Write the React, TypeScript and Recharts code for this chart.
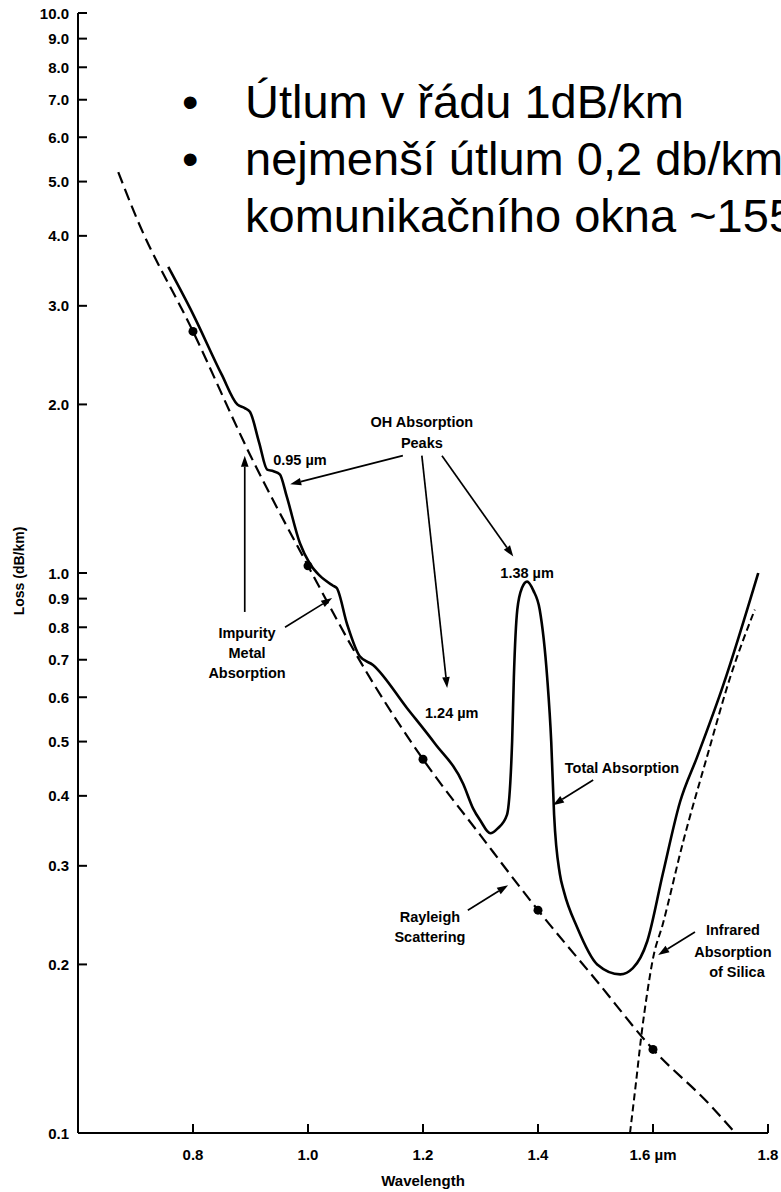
import React from 'react';
import { ComposedChart, Line, XAxis, YAxis, ReferenceLine, ReferenceDot } from 'recharts';

// ---------- data ----------
const rayleighWl = [0.67, 0.7, 0.8, 0.9, 1.0, 1.1, 1.2, 1.3, 1.4, 1.5, 1.6, 1.7, 1.743];
const rayleighLoss = [5.2, 4.35, 2.7, 1.62, 1.03, 0.67, 0.465, 0.34, 0.25, 0.188, 0.141, 0.112, 0.1];

const totalWl = [0.757, 0.8, 0.85, 0.877, 0.89, 0.899, 0.915, 0.929, 0.94, 0.951, 0.963, 0.986, 1.003, 1.02, 1.043, 1.05, 1.068, 1.09, 1.113, 1.172, 1.22, 1.27, 1.287, 1.3, 1.317, 1.33, 1.346, 1.355, 1.358, 1.364, 1.372, 1.381, 1.392, 1.403, 1.416, 1.423, 1.428, 1.438, 1.445, 1.468, 1.503, 1.543, 1.565, 1.59, 1.617, 1.647, 1.677, 1.722, 1.783];
const totalLoss = [3.52, 2.9, 2.26, 2.0, 1.97, 1.94, 1.71, 1.53, 1.52, 1.5, 1.37, 1.13, 1.04, 0.99, 0.95, 0.94, 0.81, 0.71, 0.685, 0.574, 0.497, 0.42, 0.38, 0.361, 0.343, 0.35, 0.37, 0.5, 0.65, 0.86, 0.94, 0.965, 0.93, 0.86, 0.65, 0.5, 0.37, 0.29, 0.27, 0.233, 0.2, 0.192, 0.197, 0.22, 0.29, 0.39, 0.47, 0.63, 1.0];

const infraredWl = [1.56, 1.57, 1.58, 1.59, 1.6, 1.617, 1.652, 1.694, 1.734, 1.777];
const infraredLoss = [0.1, 0.122, 0.15, 0.178, 0.205, 0.236, 0.33, 0.47, 0.65, 0.86];

const markerWl = [0.8, 1.0, 1.2, 1.4, 1.6];

const xTicks = [0.8, 1.0, 1.2, 1.4, 1.6, 1.8];
const xTickLabels = ['0.8', '1.0', '1.2', '1.4', '1.6 \u00b5m', '1.8'];
const yTicks = [0.1, 0.2, 0.3, 0.4, 0.5, 0.6, 0.7, 0.8, 0.9, 1, 2, 3, 4, 5, 6, 7, 8, 9, 10];

const bulletLines = ['\u00datlum v \u0159\u00e1du 1dB/km', 'nejmen\u0161\u00ed \u00fatlum 0,2 db/km', 'komunika\u010dn\u00edho okna ~1550 nm'];

// annotation labels anchored in data space
const noteTexts = ['OH Absorption', 'Peaks', '0.95 \u00b5m', '1.38 \u00b5m', '1.24 \u00b5m', 'Impurity', 'Metal', 'Absorption', 'Total Absorption', 'Rayleigh', 'Scattering', 'Infrared', 'Absorption', 'of Silica'];
const noteWl = [1.198, 1.198, 0.986, 1.381, 1.25, 0.894, 0.894, 0.894, 1.546, 1.212, 1.212, 1.739, 1.739, 1.746];
const noteLoss = [1.86, 1.71, 1.59, 1.0, 0.562, 0.781, 0.72, 0.663, 0.448, 0.243, 0.224, 0.23, 0.2105, 0.194];

// annotation arrows (from -> to) in data space
const arrowFromWl = [1.165, 1.198, 1.233, 0.89, 0.96, 1.496, 1.278, 1.673];
const arrowFromLoss = [1.62, 1.62, 1.62, 0.852, 0.8, 0.427, 0.25, 0.2285];
const arrowToWl = [0.969, 1.242, 1.357, 0.89, 1.042, 1.426, 1.348, 1.609];
const arrowToLoss = [1.44, 0.623, 1.07, 1.62, 0.902, 0.385, 0.277, 0.208];

// ---------- derived tables ----------
const rayleighData = rayleighWl.map((x, i) => ({ x, y: rayleighLoss[i] }));
const totalData = totalWl.map((x, i) => ({ x, y: totalLoss[i] }));
const infraredData = infraredWl.map((x, i) => ({ x, y: infraredLoss[i] }));
const markerData = markerWl.map((x) => ({ x, y: rayleighLoss[rayleighWl.indexOf(x)] }));

const W = 781;
const H = 1192;
const FONT = '"Liberation Sans", Arial, Helvetica, sans-serif';

const YTick = (props: any) => {
  const { x, y, payload } = props;
  return (
    <g>
      <line x1={x} x2={x + 9} y1={y} y2={y} stroke="#000" strokeWidth={2} />
      <text x={x - 9} y={y} textAnchor="end" dominantBaseline="central" fontSize={15} fontWeight="bold" fontFamily={FONT} fill="#000">
        {Number(payload.value).toFixed(1)}
      </text>
    </g>
  );
};

const XTick = (props: any) => {
  const { x, y, payload } = props;
  const idx = xTicks.indexOf(payload.value);
  return (
    <g>
      <line x1={x} x2={x} y1={y} y2={y - 9} stroke="#000" strokeWidth={2} />
      <text x={x} y={y + 21} textAnchor="middle" dominantBaseline="central" fontSize={15} fontWeight="bold" fontFamily={FONT} fill="#000">
        {idx >= 0 ? xTickLabels[idx] : String(payload.value)}
      </text>
    </g>
  );
};

const ArrowShape = (p: any) => {
  const x1 = Number(p.x1), y1 = Number(p.y1), x2 = Number(p.x2), y2 = Number(p.y2);
  const ang = Math.atan2(y2 - y1, x2 - x1);
  const L = 11, Wd = 3.8;
  const bx = x2 - L * Math.cos(ang);
  const by = y2 - L * Math.sin(ang);
  const pts = `${x2},${y2} ${bx + Wd * Math.sin(ang)},${by - Wd * Math.cos(ang)} ${bx - Wd * Math.sin(ang)},${by + Wd * Math.cos(ang)}`;
  return (
    <g>
      <line x1={x1} y1={y1} x2={bx} y2={by} stroke="#000" strokeWidth={1.7} />
      <polygon points={pts} fill="#000" />
    </g>
  );
};

const makeNote = (text: string) => (p: any) => (
  <text x={p.cx} y={p.cy} textAnchor="middle" dominantBaseline="central" fontSize={14.5} fontWeight="bold" fontFamily={FONT} fill="#000">
    {text}
  </text>
);

export default function App() {
  return (
    <div style={{ position: 'absolute', left: 0, top: 0, width: W, height: H, background: '#fff', overflow: 'hidden' }}>
      <ComposedChart width={W} height={H} margin={{ top: 13, right: 13, bottom: 9, left: 18 }}>
        <XAxis
          type="number"
          dataKey="x"
          domain={[0.6, 1.8]}
          ticks={xTicks}
          allowDataOverflow
          interval={0}
          height={50}
          tickSize={0}
          tickMargin={0}
          tickLine={false}
          axisLine={{ stroke: '#000', strokeWidth: 2 }}
          tick={<XTick />}
        />
        <YAxis
          type="number"
          scale="log"
          domain={[0.1, 10]}
          ticks={yTicks}
          allowDataOverflow
          interval={0}
          width={60}
          tickSize={0}
          tickMargin={0}
          tickLine={false}
          axisLine={{ stroke: '#000', strokeWidth: 2 }}
          tick={<YTick />}
        />
        <Line data={rayleighData} dataKey="y" type="monotone" stroke="#000" strokeWidth={2.2} strokeDasharray="12 6" dot={false} isAnimationActive={false} />
        <Line data={infraredData} dataKey="y" type="monotone" stroke="#000" strokeWidth={2} strokeDasharray="7 4" dot={false} isAnimationActive={false} />
        <Line data={totalData} dataKey="y" type="monotone" stroke="#000" strokeWidth={2.6} dot={false} isAnimationActive={false} />
        <Line data={markerData} dataKey="y" stroke="none" dot={{ r: 4.5, fill: '#000', stroke: '#000', strokeWidth: 0 }} isAnimationActive={false} />
        {arrowFromWl.map((w, i) => (
          <ReferenceLine
            key={'a' + i}
            segment={[{ x: w, y: arrowFromLoss[i] }, { x: arrowToWl[i], y: arrowToLoss[i] }]}
            ifOverflow="visible"
            shape={ArrowShape}
          />
        ))}
        {noteTexts.map((t, i) => (
          <ReferenceDot key={'n' + i} x={noteWl[i]} y={noteLoss[i]} r={0} ifOverflow="visible" shape={makeNote(t)} />
        ))}
      </ComposedChart>
      <svg width={W} height={H} style={{ position: 'absolute', left: 0, top: 0, pointerEvents: 'none', overflow: 'hidden' }}>
        <text transform="translate(19,571) rotate(-90)" textAnchor="middle" dominantBaseline="central" fontSize={14} fontWeight="bold" fontFamily={FONT} fill="#000">
          Loss (dB/km)
        </text>
        <text x={423} y={1180} textAnchor="middle" dominantBaseline="central" fontSize={15} fontWeight="bold" fontFamily={FONT} fill="#000">
          Wavelength
        </text>
        {bulletLines.map((t, i) => (
          <g key={'b' + i}>
            {i < 2 ? (
              <text x={182} y={118 + i * 57} fontSize={47} fontFamily={FONT} fill="#000">{'\u2022'}</text>
            ) : null}
            <text x={245} y={118 + i * 57} fontSize={47} fontFamily={FONT} fill="#000">{t}</text>
          </g>
        ))}
      </svg>
    </div>
  );
}
